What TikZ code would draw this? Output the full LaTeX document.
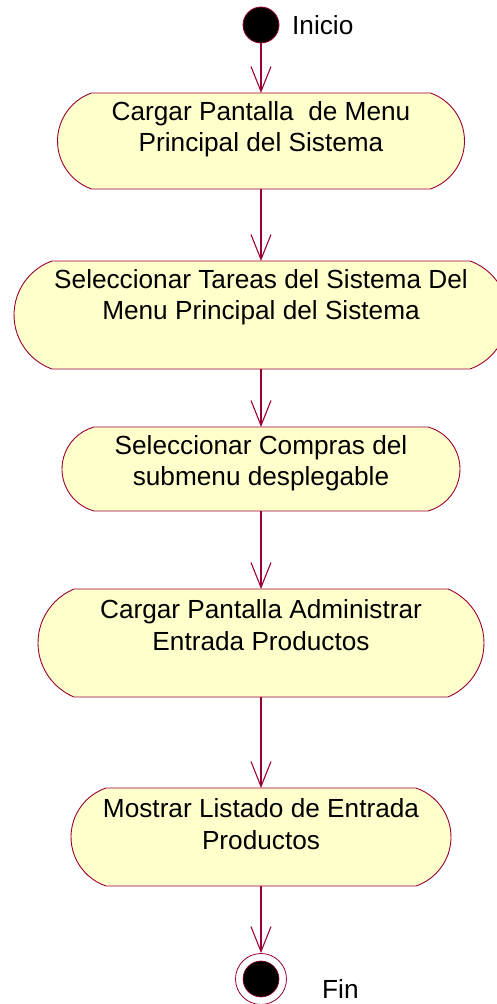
\documentclass[tikz,border=0pt]{standalone}
\usepackage{fontspec}
\setmainfont{Liberation Sans}
\usetikzlibrary{arrows.meta}
\definecolor{edge}{RGB}{153,0,51}
\definecolor{boxfill}{RGB}{255,255,204}
\tikzset{
  actshape/.style={rectangle, draw=none, inner sep=0pt, outer sep=0pt},
  actline/.style={draw=edge, fill=boxfill, line width=0.9pt, line join=miter},
  acttext/.style={align=center, inner sep=0pt, font=\fontsize{26.2}{31.5}\selectfont},
  lbl/.style={inner sep=0pt, font=\fontsize{26.2}{31.5}\selectfont},
  flow/.style={draw=edge, line width=1.1pt, -{Straight Barb[length=25pt,width=20pt]}},
}
% name, cx, half top width, top Y, bottom Y, depth
\newcommand\actbox[6]{%
  \pgfmathsetmacro\hh{(#4-#5)/2}%
  \pgfmathsetmacro\RR{(\hh*\hh+#6*#6)/(2*#6)}%
  \pgfmathsetmacro\th{asin(\hh/\RR)}%
  \node[actshape, minimum width={2*#3}, minimum height={#4-#5}] (#1) at (#2,{(#4+#5)/2}) {};
  \draw[actline] (#1.north west) -- (#1.north east)
     arc[start angle=\th, end angle=-\th, radius=\RR]
     -- (#1.south west)
     arc[start angle=180+\th, end angle=180-\th, radius=\RR] -- cycle;
}
\begin{document}
\begin{tikzpicture}[x=1pt,y=1pt]
\useasboundingbox (0,0) rectangle (497,1004);
\actbox{b1}{261}{169.5}{911}{815}{34}
\actbox{b2}{261}{209}{743}{635}{38}
\actbox{b3}{261}{167}{577}{493}{32}
\actbox{b4}{261}{187}{415}{307}{36}
\actbox{b5}{261}{155}{216}{118}{35}
\node[acttext] (t1) at ([yshift=-36pt]b1.north) {Cargar Pantalla \ de Menu\\Principal del Sistema};
\node[acttext] (t2) at ([yshift=-36pt]b2.north) {Seleccionar Tareas del Sistema Del\\Menu Principal del Sistema};
\node[acttext] (t3) at ([yshift=-36pt]b3.north) {Seleccionar Compras del\\submenu desplegable};
\node[acttext] (t4) at ([yshift=-36pt]b4.north) {Cargar Pantalla Administrar\\Entrada Productos};
\node[acttext] (t5) at ([yshift=-36pt]b5.north) {Mostrar Listado de Entrada\\Productos};
% start
\node[circle, fill=black, draw=edge, line width=0.8pt, minimum size=36pt, inner sep=0pt] (start) at (261,979) {};
\node[lbl, anchor=west] (inicio) at (292,979) {Inicio};
% end
\node[circle, fill=white, draw=edge, line width=0.8pt, minimum size=51pt, inner sep=0pt] (end) at (261,25) {};
\node[circle, fill=black, draw=edge, line width=0.6pt, minimum size=36pt, inner sep=0pt] (endin) at (end.center) {};
\node[lbl, anchor=west] (fin) at (322,15) {Fin};
% flows
\draw[flow] (start.south) -- (b1.north);
\draw[flow] (b1.south) -- (b2.north);
\draw[flow] (b2.south) -- (b3.north);
\draw[flow] (b3.south) -- (b4.north);
\draw[flow] (b4.south) -- (b5.north);
\draw[flow] (b5.south) -- (end.north);
\end{tikzpicture}
\end{document}
